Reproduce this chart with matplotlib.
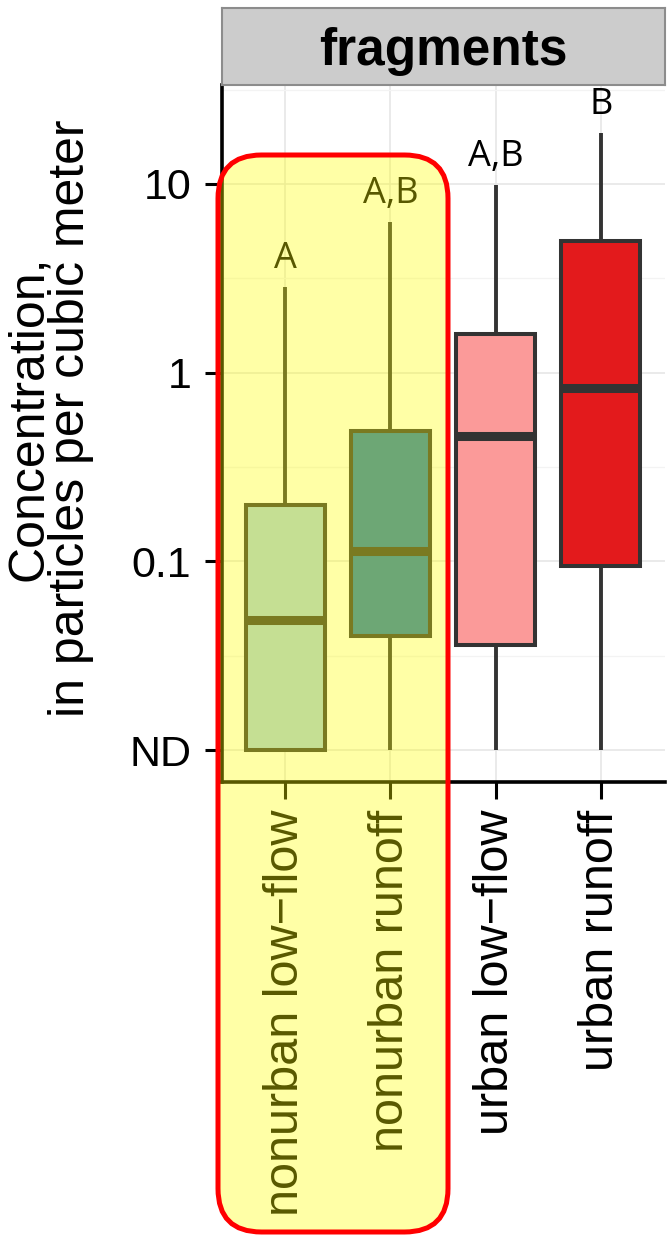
import numpy as np
import matplotlib
matplotlib.use("Agg")
import matplotlib.pyplot as plt
from matplotlib.patches import FancyBboxPatch

plt.rcParams['font.family'] = ['Liberation Sans', 'DejaVu Sans']

# data
categories = ["nonurban low\u2212flow", "nonurban runoff", "urban low\u2212flow", "urban runoff"]
whislo = [0.01, 0.01, 0.01, 0.01]
q1 = [0.01, 0.040, 0.036, 0.094]
med = [0.049, 0.114, 0.46, 0.83]
q3 = [0.20, 0.49, 1.61, 5.0]
whishi = [2.85, 6.3, 9.9, 18.6]
letters = ["A", "A,B", "A,B", "B"]
box_colors = ["#a6cee3", "#1f78b4", "#fb9a99", "#e31a1c"]
ytick_vals = [0.01, 0.1, 1, 10]
ytick_labels = ["ND", "0.1", "1", "10"]

W, H = 669, 1240
fig = plt.figure(figsize=(W / 100, H / 100), dpi=100)

# panel geometry in pixels
left, right, top, bottom = 222, 665, 85, 782
ax = fig.add_axes([left / W, 1 - bottom / H, (right - left) / W, (bottom - top) / H])

stats = []
for i in range(len(categories)):
    stats.append(dict(whislo=whislo[i], q1=q1[i], med=med[i], q3=q3[i], whishi=whishi[i],
                      label=categories[i]))
pos = np.arange(1, len(categories) + 1)
edge = "#333333"
bp = ax.bxp(stats, positions=pos, widths=0.75, showcaps=False, showfliers=False,
            patch_artist=True,
            boxprops=dict(edgecolor=edge, linewidth=2.9),
            whiskerprops=dict(color=edge, linewidth=2.8, solid_capstyle='butt'),
            medianprops=dict(color=edge, linewidth=6.5, solid_capstyle='butt'))
for patch, c in zip(bp['boxes'], box_colors):
    patch.set_facecolor(c)
    patch.set_zorder(3)
for ln in bp['whiskers'] + bp['medians']:
    ln.set_zorder(3)

for p, hi, let in zip(pos, whishi, letters):
    ax.annotate(let, xy=(p, hi), xytext=(0, 7), textcoords='offset points',
                ha='center', va='bottom', fontsize=26,
                family=['Liberation Sans Narrow', 'Open Sans', 'DejaVu Sans'])

ax.set_yscale('log')
ax.set_ylim(10 ** -2.169, 10 ** 1.524)
ax.set_xlim(0.40, 4.61)
ax.set_yticks(ytick_vals)
ax.set_yticklabels(ytick_labels)
ax.set_yticks([10 ** -1.5, 10 ** -0.5, 10 ** 0.5, 10 ** 1.5], minor=True)
ax.yaxis.set_minor_formatter(plt.NullFormatter())
ax.set_xticks(pos)
ax.set_xticklabels(categories, rotation=90)

ax.grid(True, which='major', color='#e6e6e6', linewidth=1.2, zorder=0)
ax.grid(True, which='minor', axis='y', color='#f3f3f3', linewidth=0.9, zorder=0)
ax.set_axisbelow(True)
ax.tick_params(axis='both', which='major', length=12, width=2.2, color='black',
               labelsize=31, pad=10, labelcolor='black')
ax.tick_params(axis='x', which='major', labelsize=35, pad=8)
ax.tick_params(axis='y', which='minor', length=0)
for s in ['top', 'right']:
    ax.spines[s].set_visible(False)
for s in ['left', 'bottom']:
    ax.spines[s].set_linewidth(2.6)
    ax.spines[s].set_color('black')

# facet strip
strip = fig.add_axes([left / W, 1 - top / H, (right - left) / W, (top - 8) / H])
strip.set_facecolor('#cccccc')
strip.set_xticks([])
strip.set_yticks([])
for s in strip.spines.values():
    s.set_color('#8c8c8c')
    s.set_linewidth(1.5)
strip.text(0.5, 0.44, "fragments", ha='center', va='center', fontsize=37,
           fontweight='bold', transform=strip.transAxes)

fig.text(50 / W, 1 - 418 / H, "Concentration,\nin particles per cubic meter",
         rotation=90, ha='center', va='center', multialignment='center',
         fontsize=36, linespacing=0.9)

# yellow highlight around the nonurban groups
hx0, hx1, hy0, hy1 = 218, 448, 155, 1232
hl = FancyBboxPatch((hx0 / W, 1 - hy1 / H), (hx1 - hx0) / W, (hy1 - hy0) / H,
                    boxstyle="round,pad=0,rounding_size=0.065",
                    transform=fig.transFigure, facecolor=(1, 1, 0, 0.35),
                    edgecolor='#ff0000', linewidth=3.6, zorder=10,
                    mutation_aspect=(W / H))
fig.add_artist(hl)

fig.savefig("out.png", dpi=100)
